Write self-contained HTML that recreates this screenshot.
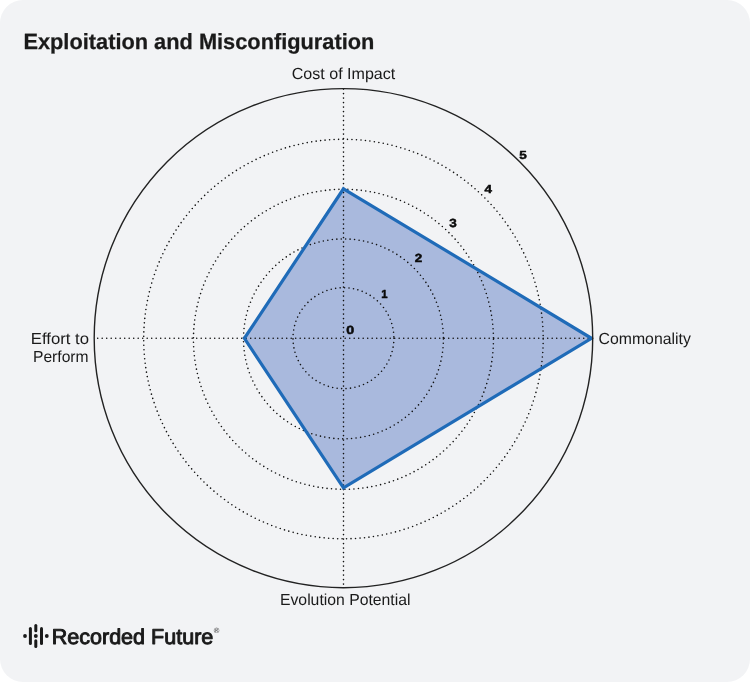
<!DOCTYPE html>
<html><head><meta charset="utf-8">
<style>
html,body{margin:0;padding:0;background:#fff;}
body{width:750px;height:682px;overflow:hidden;font-family:"Liberation Sans",sans-serif;}
.card{position:absolute;left:0;top:0;width:750px;height:682px;background:#f2f3f5;border-radius:23px;}
svg{position:absolute;left:0;top:0;}
text{text-rendering:geometricPrecision;}
.dot{fill:none;stroke:#111;stroke-width:1.6;stroke-linecap:round;stroke-dasharray:0 4.5;}
.num{font:bold 11.8px "Liberation Sans",sans-serif;fill:#0a0a0a;stroke:#0a0a0a;stroke-width:0.5;stroke-linejoin:round;text-anchor:middle;}
.lab{font:16px "Liberation Sans",sans-serif;fill:#1a1a1a;}
.title{font:bold 22px "Liberation Sans",sans-serif;fill:#1a1a1a;stroke:#1a1a1a;stroke-width:0.25;}
.logo{font:21.5px "Liberation Sans",sans-serif;fill:#1a1a1a;stroke:#1a1a1a;stroke-width:0.95;stroke-linejoin:round;}
</style></head><body>
<div class="card"></div>
<svg width="750" height="682" viewBox="0 0 750 682">
<text x="23.4" y="49.2" class="title" textLength="351" lengthAdjust="spacingAndGlyphs">Exploitation and Misconfiguration</text>
<defs><clipPath id="cp"><circle cx="343.5" cy="338.3" r="249.5"/></clipPath></defs>
<polygon points="343.50,188.78 591.50,338.30 343.50,487.82 244.40,338.30" fill="#a9b9dd"/>
<circle cx="343.45" cy="338.2" r="50.45" class="dot"/>
<circle cx="343.45" cy="338.9" r="99.95" class="dot"/>
<circle cx="343.45" cy="339.3" r="150.0" class="dot"/>
<circle cx="343.45" cy="339.05" r="199.75" class="dot"/>
<line x1="343.5" y1="89.10000000000002" x2="343.5" y2="587.5" class="dot"/>
<line x1="592.7" y1="338.3" x2="94.30000000000001" y2="338.3" class="dot"/>
<polygon points="343.50,188.78 591.50,338.30 343.50,487.82 244.40,338.30" fill="none" stroke="#1f6bb8" stroke-width="3.2" stroke-linejoin="miter" clip-path="url(#cp)"/>
<ellipse cx="343.45" cy="338.15" rx="249.25" ry="249.55" fill="none" stroke="#222" stroke-width="1.4"/>
<text x="350.3" y="333.9" class="num" textLength="7.9" lengthAdjust="spacingAndGlyphs">0</text>
<text x="384.5" y="297.5" class="num" textLength="6.3" lengthAdjust="spacingAndGlyphs">1</text>
<text x="418.5" y="261.6" class="num" textLength="7.5" lengthAdjust="spacingAndGlyphs">2</text>
<text x="453.0" y="226.8" class="num" textLength="7.5" lengthAdjust="spacingAndGlyphs">3</text>
<text x="488.2" y="193.1" class="num" textLength="7.5" lengthAdjust="spacingAndGlyphs">4</text>
<text x="522.9" y="158.7" class="num" textLength="7.5" lengthAdjust="spacingAndGlyphs">5</text>
<text x="343.5" y="79" class="lab" text-anchor="middle" textLength="103.5" lengthAdjust="spacingAndGlyphs">Cost of Impact</text>
<text x="598.6" y="344" class="lab" textLength="92.2" lengthAdjust="spacingAndGlyphs">Commonality</text>
<text x="345.2" y="605" class="lab" text-anchor="middle" textLength="130.4" lengthAdjust="spacingAndGlyphs">Evolution Potential</text>
<text x="89" y="344" class="lab" text-anchor="end" textLength="58.2" lengthAdjust="spacingAndGlyphs">Effort to</text>
<text x="88.6" y="362" class="lab" text-anchor="end" textLength="55.6" lengthAdjust="spacingAndGlyphs">Perform</text>
<g fill="#1a1a1a" stroke="none">
<circle cx="25" cy="636" r="1.9"/>
<rect x="28.9" y="627.1" width="3" height="17.8" rx="1.5"/>
<rect x="34.3" y="624.1" width="3" height="8.2" rx="1.5"/>
<circle cx="35.8" cy="636" r="1.95"/>
<rect x="34.3" y="639.3" width="3" height="8.6" rx="1.5"/>
<rect x="40" y="627.1" width="3" height="17.8" rx="1.5"/>
<circle cx="46.8" cy="636" r="1.9"/>
</g>
<text x="51.7" y="643.6" class="logo" textLength="161.6" lengthAdjust="spacingAndGlyphs">Recorded Future</text>
<text x="213.7" y="633" style="font:7.6px 'Liberation Sans',sans-serif;fill:#333">®</text>
</svg>
</body></html>
